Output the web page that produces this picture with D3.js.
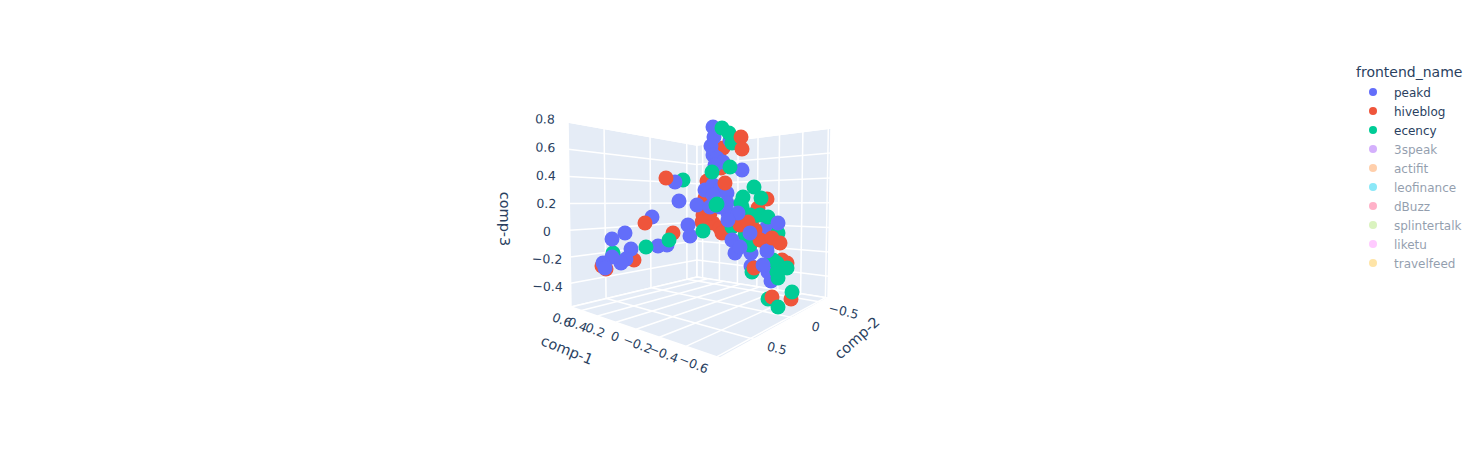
<!DOCTYPE html>
<html><head><meta charset="utf-8">
<script src="https://cdn.jsdelivr.net/npm/d3@7/dist/d3.min.js"></script>
<style>html,body{margin:0;padding:0;background:#fff}svg{display:block}text{font-family:"DejaVu Sans",Verdana,Arial,sans-serif}</style>
</head><body><svg id="c" width="1480" height="450"></svg>
<script>
const legendTitle = "frontend_name";
const categories = ["peakd","hiveblog","ecency","3speak","actifit","leofinance","dBuzz","splintertalk","liketu","travelfeed"];
const colors = ["#636efa","#EF553B","#00cc96","#ab63fa","#FFA15A","#19d3f3","#FF6692","#B6E880","#FF97FF","#FECB52"];
const visible = ["peakd","hiveblog","ecency"];
const comp1Ticks = [0.6,0.4,0.2,0,-0.2,-0.4,-0.6];
const comp2Ticks = [-0.5,0,0.5];
const comp3Ticks = [-0.4,-0.2,0,0.2,0.4,0.6,0.8];
// projected view-plane coordinates: [across, up, depth order]
const peakd = [[-25,50,2],[-21,31,2],[-48,15,2],[-75,-1,2],[-88,-7,2],[-69,-17,2],[-74,-27,2],[-79,-31,2],[-88,-25,2],[-95,-36,6],[-97,-31,2],[-42,-14,2],[-33,-13,2],[-12,7,2],[-10,-4,2],[-3,27,2],[5,42,2],[13,105,2],[14,95,2],[11,86,2],[13,77,2],[17,74,2],[23,70,2],[30,92,2],[42,62,2],[15,67,2],[13,47,2],[20,42,2],[27,39,2],[13,37,2],[27,29,2],[10,25,2],[20,25,2],[38,19,4],[28,19,2],[32,-8,4],[28,12,4],[40,-15,4],[35,-21,2],[78,9,4],[50,-1,4],[67,5,2],[67,-15,2],[51,-21,2],[67,-19,4],[51,-34,2],[63,-33,5],[71,-49,2],[68,-40,2]];
const hiveblog = [[-34,54,4],[-55,9,4],[-27,-1,1],[-66,-28,1],[-98,-34,1],[-94,-37,1],[41,95,4],[42,83,4],[23,84,1],[21,64,1],[25,49,5],[7,51,1],[5,34,1],[3,17,1],[2,10,1],[20,4,3],[13,9,1],[22,-1,3],[10,19,1],[67,33,1],[58,24,1],[53,14,1],[63,0,1],[72,-6,4],[80,-11,4],[54,-36,4],[72,-65,4],[91,-67,1],[82,-28,1],[87,-31,1],[40,7,3.5],[48,10,3.5],[60,-8,3.5],[55,2,3.5]];
const ecency = [[-17,52,1],[-54,-15,3],[-31,-8,3],[-87,-21,1],[22,104,3],[29,99,3],[32,89,3],[30,65,3],[12,60,3],[17,28,3],[3,1,3],[43,35,3],[54,45,3],[61,34,3],[41,29,3],[16,27,3],[32,5,3],[42,25,3],[60,17,3],[68,15,3],[50,17,3],[40,12,3],[53,4,3],[45,-3,3],[78,-1,3],[33,7,3],[50,-8,3],[50,-13,3],[52,-40,3],[77,-31,3],[87,-36,3],[78,-46,3],[77,-40,3],[68,-67,3],[78,-75,5],[92,-60,3],[73,-28,3]];
const seriesData = {peakd, hiveblog, ecency};

const svg = d3.select("#c");
const ink = "#2a3f5f";
const fmt = v => String(v).replace("-", "\u2212");

// scene corners
const C = {LT:[568,122],LB:[571,307],BT:[697,145],BB:[697,277],RT:[831,128],RB:[828,298],F:[720,358]};
function quad(p00,p10,p11,p01){ // unit square -> quad
  const [x0,y0]=p00,[x1,y1]=p10,[x2,y2]=p11,[x3,y3]=p01;
  const dx1=x1-x2,dx2=x3-x2,dy1=y1-y2,dy2=y3-y2,sx=x0-x1+x2-x3,sy=y0-y1+y2-y3;
  const den=dx1*dy2-dx2*dy1;
  const g=(sx*dy2-dx2*sy)/den,h=(dx1*sy-sx*dy1)/den;
  const a=x1-x0+g*x1,b=x3-x0+h*x3,d=y1-y0+g*y1,e=y3-y0+h*y3;
  return (s,t)=>{const w=g*s+h*t+1;return [(a*s+b*t+x0)/w,(d*s+e*t+y0)/w];};
}
const s1 = d3.scaleLinear().domain([0.67,-0.62]).range([0,1]);
const s1f = d3.scaleLinear().domain([0.74,-0.62]).range([0,1]);
const s2 = d3.scaleLinear().domain([0.82,-0.66]).range([0,1]);
const s3 = d3.scaleLinear().domain([-0.58,0.8]).range([0,1]);
const leftWall = quad(C.LB,C.BB,C.BT,C.LT);   // s: comp-2, t: comp-3
const rightWall = quad(C.BB,C.RB,C.RT,C.BT);  // s: comp-1, t: comp-3
const floor = quad(C.LB,C.F,C.RB,C.BB);       // s: comp-1, t: comp-2 (reversed)

const scene = svg.append("g");
[[C.LB,C.BB,C.BT,C.LT],[C.BB,C.RB,C.RT,C.BT],[C.LB,C.F,C.RB,C.BB]].forEach(q=>{
  scene.append("polygon").attr("points",q.map(p=>p.join(",")).join(" ")).attr("fill","#E5ECF6").attr("stroke","#fff").attr("stroke-width",1.5);
});
const gl = (a,b)=>scene.append("line").attr("x1",a[0]).attr("y1",a[1]).attr("x2",b[0]).attr("y2",b[1]).attr("stroke","#fff").attr("stroke-width",1.5);
comp3Ticks.forEach(v=>{const t=s3(v);gl(leftWall(0,t),leftWall(1,t));gl(rightWall(0,t),rightWall(1,t));});
comp2Ticks.forEach(v=>{const s=s2(v);gl(leftWall(s,0),leftWall(s,1));gl(floor(0,s),floor(1,s));});
comp1Ticks.forEach(v=>{gl(rightWall(s1(v),0),rightWall(s1(v),1));gl(floor(s1f(v),0),floor(s1f(v),1));});

// tick labels
const label=(txt,x,y,rot,size)=>svg.append("text").attr("transform",`translate(${x},${y}) rotate(${rot})`).attr("text-anchor","middle").attr("dominant-baseline","central").attr("font-size",size).attr("fill",ink).text(txt);
comp3Ticks.forEach(v=>{const p=leftWall(0,s3(v));label(fmt(v),p[0]-23,p[1]+(v-0.2)*-5,2,12.5);});
comp1Ticks.forEach(v=>{const p=floor(s1f(v),0);label(fmt(v),p[0]-21+v*3,p[1]+7+Math.max(v,0)*4,22,12.5);});
comp2Ticks.forEach(v=>{const p=floor(1,s2(v));label(fmt(v),p[0]+23,p[1]+9,14,12.5);});
label("comp-1",567,350,22,14.5);
label("comp-2",857,338,-42,14.5);
label("comp-3",505,219,90,14.5);

// points
const vx = d3.scaleLinear().domain([-200,200]).range([500,900]);
const vy = d3.scaleLinear().domain([-150,150]).range([382,82]);
const color = d3.scaleOrdinal().domain(categories).range(colors);
const pts = visible.flatMap(n=>seriesData[n].map(d=>({n,u:d[0],v:d[1],z:d[2]})));
svg.append("g").selectAll("circle").data(d3.sort(pts,d=>d.z)).join("circle")
  .attr("cx",d=>vx(d.u)).attr("cy",d=>vy(d.v)).attr("r",7.5).attr("fill",d=>color(d.n));

// legend
svg.append("text").attr("x",1356).attr("y",77).attr("font-size",14).attr("fill",ink).text(legendTitle);
const ly = d3.scalePoint().domain(categories).range([92,263]);
const lg = svg.append("g").selectAll("g").data(categories).join("g")
  .attr("opacity",d=>visible.includes(d)?1:0.5).attr("transform",d=>`translate(0,${ly(d)})`);
lg.append("circle").attr("cx",1373).attr("cy",0).attr("r",4).attr("fill",d=>color(d));
lg.append("text").attr("x",1394).attr("y",4.5).attr("font-size",12).attr("fill",ink).text(d=>d);
</script></body></html>
